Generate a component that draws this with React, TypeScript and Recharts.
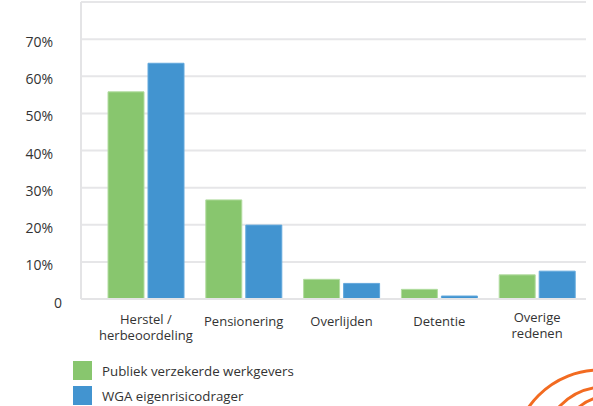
import { BarChart, Bar, XAxis, YAxis, CartesianGrid } from "recharts";

const categories = [
  "Herstel / herbeoordeling",
  "Pensionering",
  "Overlijden",
  "Detentie",
  "Overige redenen",
];

// tick labels split over lines, as in the reference
const categoryLines: string[][] = [
  ["Herstel /", "herbeoordeling"],
  ["Pensionering"],
  ["Overlijden"],
  ["Detentie"],
  ["Overige", "redenen"],
];

const publiek = [0.558, 0.267, 0.053, 0.026, 0.065];
const wga = [0.635, 0.199, 0.042, 0.008, 0.075];

const yTicks = [0, 0.1, 0.2, 0.3, 0.4, 0.5, 0.6, 0.7];

const seriesNames = ["Publiek verzekerde werkgevers", "WGA eigenrisicodrager"];
const seriesColors = ["#88c66e", "#4294d0"];

const data = categories.map((name, i) => ({
  name,
  publiek: publiek[i],
  wga: wga[i],
}));

const font = "'Open Sans', 'Noto Sans', sans-serif";

function YTick(props: any) {
  const { x, y, payload } = props;
  const v = payload.value;
  const label = v === 0 ? "0" : `${Math.round(v * 100)}%`;
  return (
    <text
      x={v === 0 ? x + 9 : x}
      y={v === 0 ? y + 9 : y + 8}
      textAnchor="end"
      fill="#333"
      fontSize={14}
      fontFamily={font}
    >
      {label}
    </text>
  );
}

function XTick(props: any) {
  const { x, y, index } = props;
  const lines = categoryLines[index] || [];
  const startY = lines.length > 1 ? (index === 4 ? y + 15 : y + 17) : y + 19;
  return (
    <g>
      {lines.map((l, i) => (
        <text
          key={i}
          x={x}
          y={startY + i * 16}
          textAnchor="middle"
          fill="#333"
          fontSize={13}
          fontFamily={font}
        >
          {l}
        </text>
      ))}
    </g>
  );
}

export default function App() {
  return (
    <div
      style={{
        position: "absolute",
        left: 0,
        top: 0,
        width: 593,
        height: 406,
        background: "#fff",
        overflow: "hidden",
        fontFamily: font,
      }}
    >
      <BarChart
        width={593}
        height={350}
        data={data}
        margin={{ top: 2, right: 7, bottom: 0, left: 0 }}
        barSize={36}
        barGap={4}
      >
        <CartesianGrid vertical={false} stroke="#e6e6e8" strokeWidth={2} />
        <XAxis
          dataKey="name"
          height={51}
          padding={{ left: 16, right: 0 }}
          axisLine={{ stroke: "#e4e4e6", strokeWidth: 2 }}
          tickLine={false}
          tick={<XTick />}
          interval={0}
        />
        <YAxis
          width={81}
          domain={[0, 0.8]}
          ticks={yTicks}
          axisLine={{ stroke: "#e4e4e6", strokeWidth: 2 }}
          tickLine={false}
          tickSize={0}
          tickMargin={28}
          tick={<YTick />}
          interval={0}
        />
        <Bar
          dataKey="publiek"
          fill={seriesColors[0]}
          stroke="#b2dca0"
          strokeWidth={1}
          isAnimationActive={false}
        />
        <Bar
          dataKey="wga"
          fill={seriesColors[1]}
          stroke="#62a8dc"
          strokeWidth={1}
          isAnimationActive={false}
        />
      </BarChart>

      <div style={{ position: "absolute", left: 73, top: 361 }}>
        {seriesNames.map((n, i) => (
          <div
            key={n}
            style={{
              display: "flex",
              alignItems: "center",
              height: 19,
              marginBottom: 6,
            }}
          >
            <div
              style={{
                width: 19,
                height: 19,
                background: seriesColors[i],
                marginRight: 10,
              }}
            />
            <span style={{ fontSize: 13.3, color: "#333" }}>{n}</span>
          </div>
        ))}
      </div>

      <svg
        width={593}
        height={406}
        style={{ position: "absolute", left: 0, top: 0, pointerEvents: "none" }}
      >
        <g fill="none" stroke="#f26b21" strokeWidth={3}>
          <circle cx={600} cy={457} r={87} />
          <circle cx={605} cy={450} r={63} />
          <circle cx={610} cy={445} r={49} />
        </g>
      </svg>
    </div>
  );
}
